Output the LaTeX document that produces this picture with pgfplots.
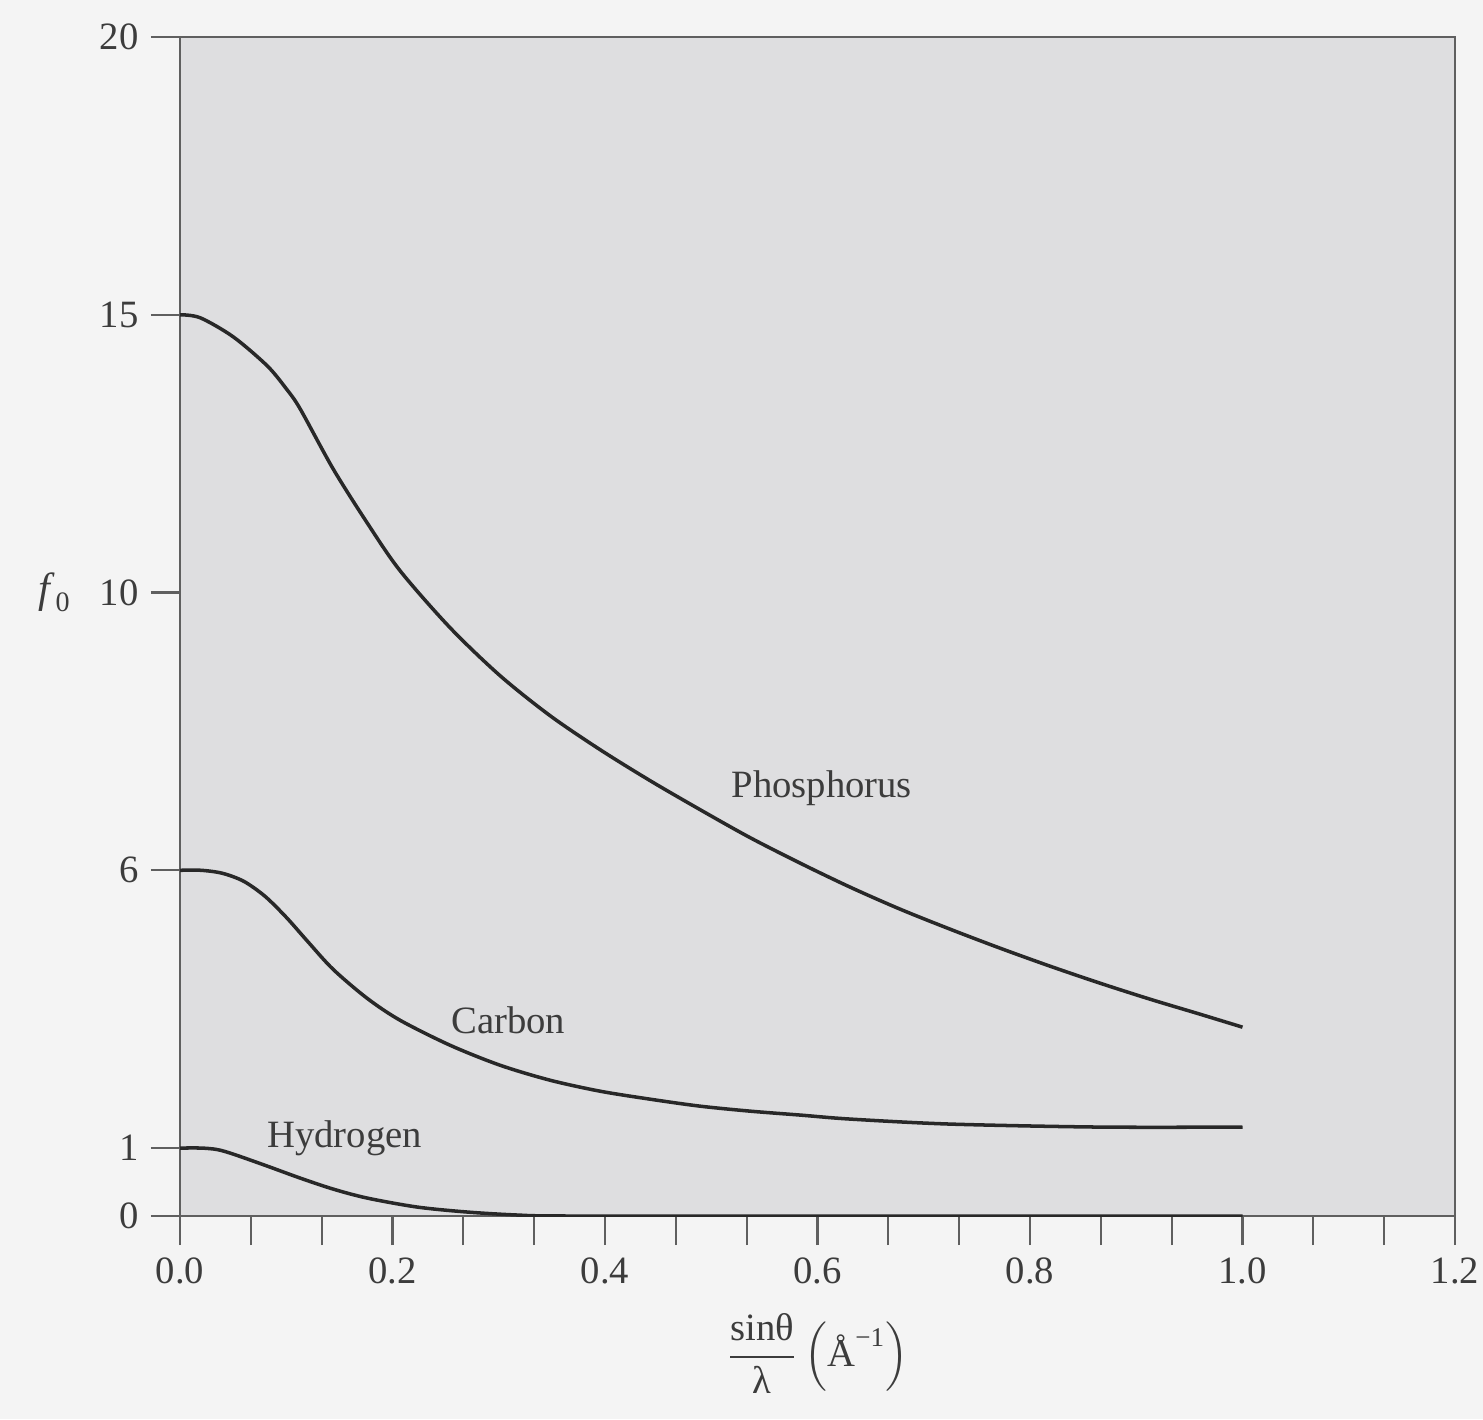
\documentclass[border=0pt]{standalone}
\usepackage{fontspec}
\setmainfont{Liberation Serif}
\usepackage{amsmath}
\usepackage{pgfplots}
\pgfplotsset{compat=1.18}

\definecolor{pagebg}{RGB}{244,244,244}
\definecolor{axbg}{RGB}{222,222,224}
\definecolor{ink}{RGB}{60,60,60}
\definecolor{curve}{RGB}{40,40,40}
\definecolor{frame}{RGB}{95,95,95}

% y is measured as drawn (the printed axis is not linear): ticks 0,1,6,10,15,20
\begin{document}
\begin{tikzpicture}
\fill[pagebg] (-1.8cm,-2.03cm) rectangle (13.03cm,12.16cm);
\useasboundingbox (-1.8cm,-2.03cm) rectangle (13.03cm,12.16cm);
\begin{axis}[scale only axis, width=12.75cm, height=11.79cm,
  xmin=0, xmax=1.2, ymin=0, ymax=1180,
  xtick={0,0.2,0.4,0.6,0.8,1.0,1.2}, minor x tick num=2,
  ytick={0,68,346,624,902,1180}, yticklabels={0,1,6,10,15,20},
  tick align=outside, tick pos=left,
  major tick length=2.9mm, minor tick length=2.9mm,
  every tick/.style={frame, line width=0.6pt},
  axis line style={frame, line width=0.7pt},
  axis background/.style={fill=axbg},
  /pgf/number format/assume math mode=true,
  xticklabel style={/pgf/number format/fixed, /pgf/number format/fixed zerofill, /pgf/number format/precision=1},
  ticklabel style={font=\fontsize{11}{13}\selectfont, text=ink},
  xlabel={$\dfrac{\text{sinθ}}{\text{λ}}\left(\text{Å}^{\text{−1}}\right)$},
  xlabel style={font=\fontsize{11}{13}\selectfont, text=ink, yshift=-1.4mm, inner sep=1pt},
  ylabel={\textit{f}\raisebox{-0.45ex}{\footnotesize 0}},
  every axis y label/.style={at={(rel axis cs:0,0.529)}, anchor=east, xshift=-9.8mm, font=\fontsize{12}{14}\selectfont, text=ink}]

% Phosphorus
\addplot[curve, line width=1pt, smooth] coordinates {(0,902) (0.019,899) (0.050,880) (0.082,851) (0.100,828) (0.113,808) (0.144,748) (0.176,694) (0.207,646) (0.254,589) (0.301,541) (0.348,501) (0.395,467) (0.442,436) (0.489,407) (0.536,379) (0.584,353) (0.631,329) (0.678,307) (0.725,287) (0.772,268) (0.819,250) (0.866,233) (0.913,217) (0.960,202) (1.0,189)};
% Carbon
\addplot[curve, line width=1pt, smooth] coordinates {(0,346) (0.02,346) (0.04,343) (0.06,335) (0.08,320) (0.10,299) (0.12,275) (0.144,247) (0.176,218) (0.207,196) (0.254,171) (0.301,151) (0.348,136) (0.395,125) (0.442,117) (0.489,110) (0.536,105) (0.584,101) (0.631,97) (0.725,92) (0.866,89) (1.0,89)};
% Hydrogen
\addplot[curve, line width=1pt, smooth] coordinates {(0,68) (0.02,68) (0.035,66.5) (0.050,62) (0.082,50) (0.113,38) (0.144,27) (0.176,18) (0.223,9) (0.270,4) (0.317,1) (0.364,0) (0.6,0) (1.0,0)};

\node[text=ink, font=\fontsize{11}{13}\selectfont] at (axis cs:0.604,428) {Phosphorus};
\node[text=ink, font=\fontsize{11}{13}\selectfont] at (axis cs:0.309,196) {Carbon};
\node[text=ink, font=\fontsize{11}{13}\selectfont] at (axis cs:0.155,78) {Hydrogen};
\end{axis}
\end{tikzpicture}
\end{document}
